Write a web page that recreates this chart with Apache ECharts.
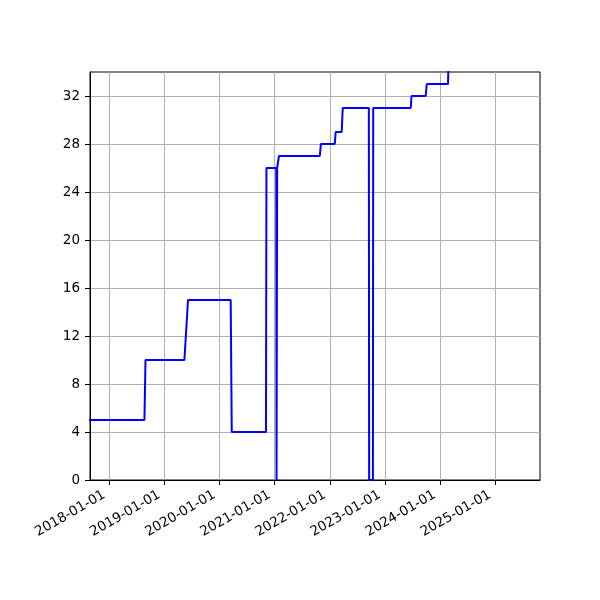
<!DOCTYPE html>
<html>
<head>
<meta charset="utf-8">
<script src="https://cdn.jsdelivr.net/npm/echarts@6/dist/echarts.min.js"></script>
<style>html,body{margin:0;padding:0;background:#fff;}#c{width:600px;height:600px;}</style>
</head>
<body>
<div id="c"></div>
<script>
var dates = ['2017-08-01','2018-08-21','2018-08-28','2019-05-13','2019-06-06','2020-03-15','2020-03-22','2020-11-04','2020-11-07','2021-01-11','2021-01-13','2021-01-17','2021-01-29','2021-10-27','2021-11-03','2022-02-03','2022-02-09','2022-03-21','2022-03-28','2022-09-17','2022-09-19','2022-10-14','2022-10-16','2023-06-22','2023-06-27','2023-09-29','2023-10-06','2024-02-24','2024-03-01'];
var values = [5,5,10,10,15,15,4,4,26,26,0,26,27,27,28,28,29,29,31,31,0,0,31,31,32,32,33,33,36];
var xTickLabels = ['2018-01-01','2019-01-01','2020-01-01','2021-01-01','2022-01-01','2023-01-01','2024-01-01','2025-01-01'];
var yTicks = [0,4,8,12,16,20,24,28,32];
var xMin = '2017-08-25', xMax = '2025-10-26';

function ts(s){var p=s.split('-');return Date.UTC(+p[0],+p[1]-1,+p[2]);}
function pad(n){return (n<10?'0':'')+n;}
function fmt(v){var d=new Date(v);return d.getUTCFullYear()+'-'+pad(d.getUTCMonth()+1)+'-'+pad(d.getUTCDate());}
var xTickVals = xTickLabels.map(ts);
var seriesData = dates.map(function(d,i){return [ts(d), values[i]];});

var chart = echarts.init(document.getElementById('c'), null, {renderer:'canvas'});
chart.setOption({
  animation:false,
  backgroundColor:'#fff',
  grid:{left:90,right:60,top:72,bottom:120,show:true,borderColor:'#000',borderWidth:1,backgroundColor:'transparent'},
  xAxis:{
    type:'value',
    min:ts(xMin), max:ts(xMax),
    axisLine:{show:true,onZero:false,lineStyle:{color:'#000',width:1}},
    axisTick:{show:true,length:5,inside:false,lineStyle:{color:'#000',width:1},customValues:xTickVals},
    axisLabel:{rotate:30,margin:11,padding:[0,6,0,0],color:'#000',fontSize:13.5,fontFamily:'DejaVu Sans',customValues:xTickVals,formatter:fmt},
    splitLine:{show:true,lineStyle:{color:'#b0b0b0',width:1}}
  },
  yAxis:{
    type:'value',
    min:0,max:34,
    axisLine:{show:true,lineStyle:{color:'#000',width:1}},
    axisTick:{show:true,length:5,lineStyle:{color:'#000',width:1},customValues:yTicks},
    axisLabel:{margin:10,color:'#000',fontSize:13.5,fontFamily:'DejaVu Sans',customValues:yTicks},
    splitLine:{show:true,lineStyle:{color:'#b0b0b0',width:1}}
  },
  series:[{
    type:'line',
    data:seriesData,
    showSymbol:false,
    clip:true,
    lineStyle:{color:'#0000ff',width:2},
    itemStyle:{color:'#0000ff'}
  }]
});
</script>
</body>
</html>
